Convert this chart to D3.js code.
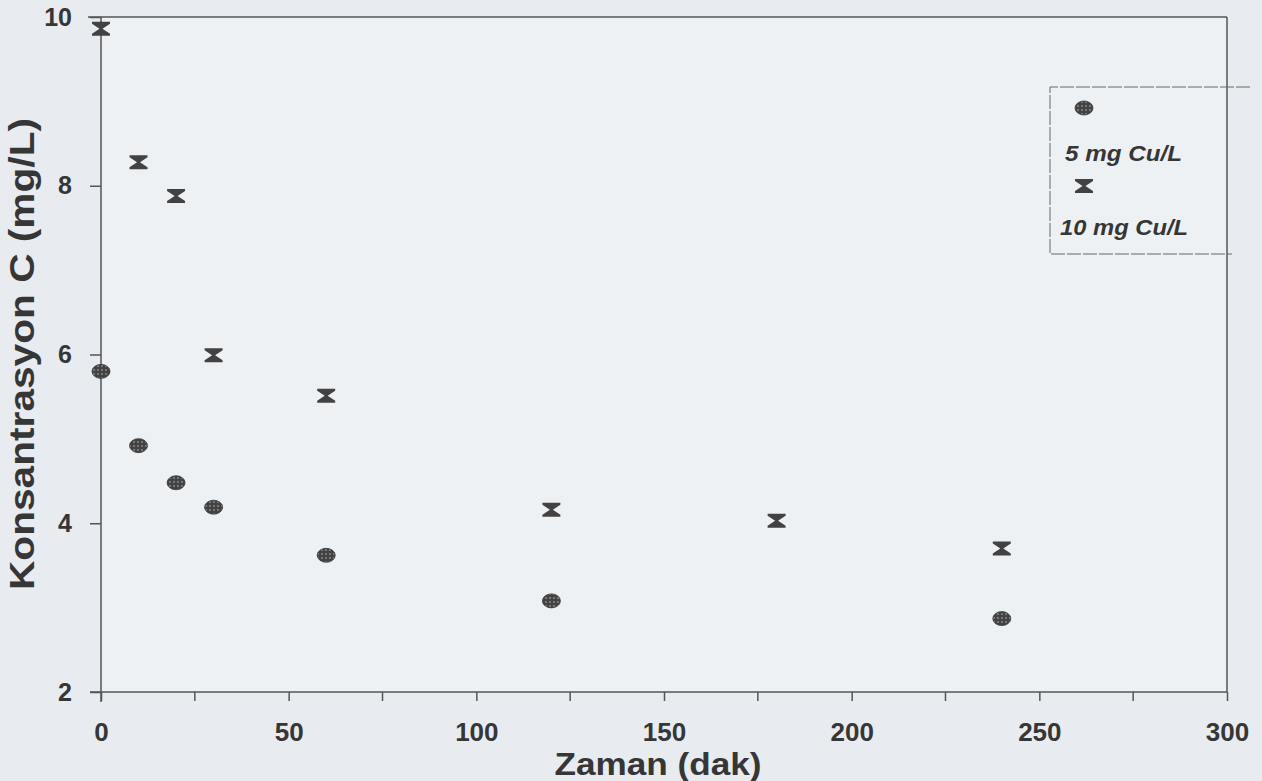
<!DOCTYPE html>
<html>
<head>
<meta charset="utf-8">
<script src="https://cdn.jsdelivr.net/npm/d3@7"></script>
<style>
  body { margin: 0; background: #e8ebef; }
  svg { display: block; }
</style>
</head>
<body>
<div id="chart"></div>
<script>
'use strict';

// Zaman (dak) / Konsantrasyon (mg/L)
const time5 = [0, 10, 20, 30, 60, 120, 240];
const conc5 = [5.80, 4.92, 4.48, 4.19, 3.62, 3.08, 2.87];
const time10 = [0, 10, 20, 30, 60, 120, 180, 240];
const conc10 = [9.86, 8.28, 7.88, 5.99, 5.51, 4.16, 4.03, 3.70];

const xTicks = [0, 50, 100, 150, 200, 250, 300];
const xMinor = [25, 75, 125, 175, 225, 275];
const yTicks = [2, 4, 6, 8, 10];
const legendLabels = ['5 mg Cu/L', '10 mg Cu/L'];

const width = 1262, height = 781;
const margin = {top: 17, right: 35, bottom: 89, left: 101};
const inkColor = '#363636';
const fontFam = '"Liberation Sans", Arial, sans-serif';

const svg = d3.select('#chart').append('svg')
	.attr('width', width)
	.attr('height', height);

const defs = svg.append('defs');
const pat = defs.append('pattern')
	.attr('id', 'dots')
	.attr('patternUnits', 'userSpaceOnUse')
	.attr('width', 4)
	.attr('height', 4);
pat.append('rect').attr('width', 4).attr('height', 4).attr('fill', '#434343');
pat.append('circle').attr('cx', 2).attr('cy', 2).attr('r', 0.9).attr('fill', '#8f8f8f');

svg.append('rect')
	.attr('width', width).attr('height', height)
	.attr('fill', '#e8ebef');

const x = d3.scaleLinear()
	.domain([0, 300])
	.range([margin.left, width - margin.right]);

const y = d3.scaleLinear()
	.domain([2, 10])
	.range([height - margin.bottom, margin.top]);

// plot area, a bit lighter
svg.append('rect')
	.attr('x', x(0)).attr('y', y(10))
	.attr('width', x(300) - x(0)).attr('height', y(2) - y(10))
	.attr('fill', '#eef1f4');

// frame top + right
svg.append('line')
	.attr('x1', 88).attr('x2', x(300))
	.attr('y1', y(10)).attr('y2', y(10))
	.attr('stroke', '#555').attr('stroke-width', 1.5);
svg.append('line')
	.attr('x1', x(300)).attr('x2', x(300))
	.attr('y1', y(10)).attr('y2', y(2))
	.attr('stroke', '#555').attr('stroke-width', 1.5);

// x axis
const xAxis = d3.axisBottom(x)
	.tickValues(xTicks)
	.tickSize(9)
	.tickPadding(22)
	.tickFormat(d3.format('d'));

const gx = svg.append('g')
	.attr('transform', 'translate(0,' + y(2) + ')')
	.call(xAxis);
gx.select('.domain').remove();
gx.append('line')
	.attr('x1', 90).attr('x2', x(300))
	.attr('stroke', '#555').attr('stroke-width', 1.5);
gx.selectAll('.tick line').attr('stroke', '#555').attr('stroke-width', 1.5);
gx.selectAll('.tick text')
	.attr('fill', inkColor)
	.style('font-family', fontFam)
	.style('font-weight', 'bold')
	.style('font-size', '26px');

gx.selectAll('.minor')
	.data(xMinor)
	.enter().append('line')
	.attr('x1', d => x(d)).attr('x2', d => x(d))
	.attr('y1', 0).attr('y2', 9)
	.attr('stroke', '#555').attr('stroke-width', 1.5);

// y axis
const yAxis = d3.axisLeft(y)
	.tickValues(yTicks)
	.tickSize(11)
	.tickPadding(18)
	.tickFormat(d3.format('d'));

const gy = svg.append('g')
	.attr('transform', 'translate(' + x(0) + ',0)')
	.call(yAxis);
gy.select('.domain').remove();
gy.append('line')
	.attr('y1', y(10)).attr('y2', y(2) + 10)
	.attr('stroke', '#555').attr('stroke-width', 1.5);
gy.selectAll('.tick line').attr('stroke', '#555').attr('stroke-width', 1.5);
gy.selectAll('.tick text')
	.attr('fill', inkColor)
	.style('font-family', fontFam)
	.style('font-weight', 'bold')
	.style('font-size', '25px');

// axis titles
svg.append('text')
	.attr('x', 658).attr('y', 775)
	.attr('text-anchor', 'middle')
	.attr('textLength', 207)
	.attr('lengthAdjust', 'spacingAndGlyphs')
	.attr('fill', inkColor)
	.style('font-family', fontFam)
	.style('font-weight', 'bold')
	.style('font-size', '31px')
	.text('Zaman (dak)');

svg.append('text')
	.attr('transform', 'translate(34,' + 354 + ') rotate(-90)')
	.attr('text-anchor', 'middle')
	.attr('textLength', 472)
	.attr('lengthAdjust', 'spacingAndGlyphs')
	.attr('fill', inkColor)
	.style('font-family', fontFam)
	.style('font-weight', 'bold')
	.style('font-size', '35px')
	.text('Konsantrasyon C (mg/L)');

// markers
const hourglass = 'M-9,-7H9V-5L1.5,0L9,5V7H-9V5L-1.5,0L-9,-5Z';

function drawCircle(g, cx, cy) {
	g.append('ellipse')
		.attr('cx', cx).attr('cy', cy)
		.attr('rx', 9).attr('ry', 7)
		.attr('fill', 'url(#dots)')
		.attr('stroke', '#333').attr('stroke-width', 0.8);
}

function drawHourglass(g, cx, cy) {
	g.append('path')
		.attr('d', hourglass)
		.attr('transform', 'translate(' + cx + ',' + cy + ')')
		.attr('fill', '#424242');
}

const marks = svg.append('g');
time5.forEach((t, i) => drawCircle(marks, x(t), y(conc5[i])));
time10.forEach((t, i) => drawHourglass(marks, x(t), y(conc10[i])));

// legend
const lg = svg.append('g');
lg.append('path')
	.attr('d', 'M1250,87H1050V254H1232')
	.attr('fill', 'none')
	.attr('stroke', '#666')
	.attr('stroke-width', 1)
	.attr('stroke-dasharray', '14,2');
drawCircle(lg, 1084, 108);
drawHourglass(lg, 1084, 186);
lg.selectAll('text')
	.data(legendLabels)
	.enter().append('text')
	.attr('x', (d, i) => i === 0 ? 1065 : 1060)
	.attr('y', (d, i) => i === 0 ? 161 : 235)
	.attr('textLength', (d, i) => i === 0 ? 117 : 128)
	.attr('lengthAdjust', 'spacingAndGlyphs')
	.attr('fill', inkColor)
	.style('font-family', fontFam)
	.style('font-weight', 'bold')
	.style('font-style', 'italic')
	.style('font-size', '22px')
	.text(d => d);
</script>
</body>
</html>
